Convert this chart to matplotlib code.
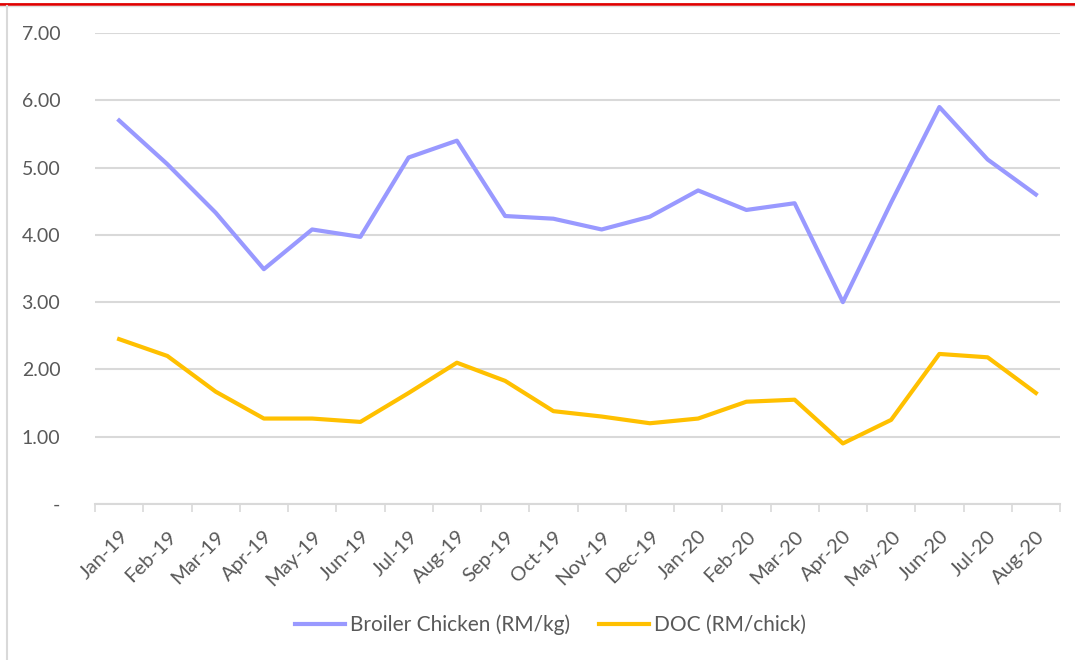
import matplotlib.pyplot as plt
import numpy as np
from matplotlib.ticker import FixedLocator

months = ["Jan-19", "Feb-19", "Mar-19", "Apr-19", "May-19", "Jun-19", "Jul-19",
          "Aug-19", "Sep-19", "Oct-19", "Nov-19", "Dec-19", "Jan-20", "Feb-20",
          "Mar-20", "Apr-20", "May-20", "Jun-20", "Jul-20", "Aug-20"]
broiler = [5.70, 5.05, 4.33, 3.49, 4.08, 3.97, 5.15, 5.40, 4.28, 4.24,
           4.08, 4.27, 4.66, 4.37, 4.47, 3.00, 4.48, 5.90, 5.12, 4.60]
doc = [2.45, 2.20, 1.67, 1.27, 1.27, 1.22, 1.65, 2.10, 1.83, 1.38,
       1.30, 1.20, 1.27, 1.52, 1.55, 0.90, 1.25, 2.23, 2.18, 1.65]
yticks = [0, 1, 2, 3, 4, 5, 6, 7]
ylabels = ["-", "1.00", "2.00", "3.00", "4.00", "5.00", "6.00", "7.00"]

plt.rcParams['font.family'] = ['Lato', 'DejaVu Sans']
txt = '#595959'
grid = '#D9D9D9'

fig = plt.figure(figsize=(10.75, 6.6), dpi=100)
ax = fig.add_axes([95/1075, 1 - 504/660, 965/1075, 471/660])

x = np.arange(len(months))
ax.plot(x, broiler, color='#9999FF', lw=3, solid_joinstyle='round',
        label='Broiler Chicken (RM/kg)')
ax.plot(x, doc, color='#FFC000', lw=3, solid_joinstyle='round',
        label='DOC (RM/chick)')

ax.set_xlim(-0.5, len(months) - 0.5)
ax.set_ylim(0, 7)
ax.set_yticks(yticks)
ax.set_yticklabels(ylabels)
ax.set_xticks(x)
ax.set_xticklabels(months, rotation=45, ha='right', rotation_mode='anchor')
ax.xaxis.set_minor_locator(FixedLocator(np.arange(-0.5, len(months), 1)))
ax.tick_params(axis='x', which='major', length=0, pad=17, labelsize=14.5, labelcolor=txt)
ax.tick_params(axis='x', which='minor', length=6, width=1.2, color=grid)
ax.tick_params(axis='y', length=0, pad=25, labelsize=14, labelcolor=txt)
for lbl in ax.get_yticklabels():
    lbl.set_horizontalalignment('right')

ax.grid(axis='y', color=grid, lw=1.5)
ax.set_axisbelow(True)
for s in ['top', 'right', 'left']:
    ax.spines[s].set_visible(False)
ax.spines['bottom'].set_color(grid)
ax.spines['bottom'].set_linewidth(1.5)

ax.legend(loc='center', bbox_to_anchor=(0.5 + 13/1075, (660 - 625) / 660),
          bbox_transform=fig.transFigure,
          ncol=2, frameon=False, fontsize=15, labelcolor=txt, handlelength=2.4,
          handletextpad=0.25, columnspacing=1.4)

# frame lines of the original screenshot
fig.add_artist(plt.Line2D([0, 1], [1 - 3.5/660] * 2, color='#E00000', lw=2))
fig.add_artist(plt.Line2D([0, 1], [1 - 6/660] * 2, color='#E0E0E0', lw=1))
fig.add_artist(plt.Line2D([7/1075] * 2, [0, 1 - 6/660], color='#D9D9D9', lw=1.5))

fig.savefig('out.png', dpi=100)
